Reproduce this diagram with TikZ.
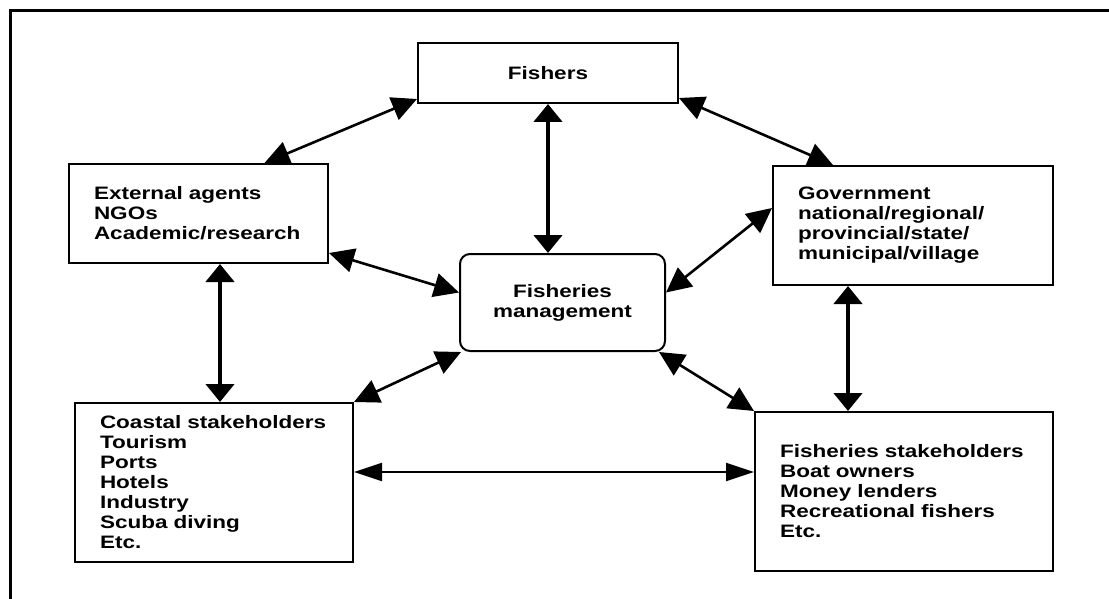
\documentclass[tikz,border=0pt]{standalone}
\usepackage{fontspec}
\setmainfont{Liberation Sans}[FakeStretch=1.25]
\usetikzlibrary{arrows.meta}

\begin{document}
\begin{tikzpicture}[
    x=0.5pt, y=-0.5pt,
    font=\fontsize{9}{10}\selectfont\bfseries,
    box/.style={rectangle, draw=black, line width=1pt, inner sep=0pt, align=left},
    centrebox/.style={box, rounded corners=5pt, align=center},
    diag/.style={line width=1.3pt, {Triangle[length=12.5pt,width=12pt]}-{Triangle[length=12.5pt,width=12pt]}},
    vert/.style={line width=2.2pt, {Triangle[length=9pt,width=14pt]}-{Triangle[length=9pt,width=14pt]}},
    horiz/.style={line width=1pt, {Triangle[length=14pt,width=9pt]}-{Triangle[length=14pt,width=9pt]}}
]
\useasboundingbox (0,0) rectangle (1109,599);
\draw[line width=1.5pt] (10,599) -- (10,11) -- (1109,11);

% Nodes
\node (fishers) [box, align=center, minimum width=130pt, minimum height=30pt] at (548,73) {Fishers};
\node (external) [box, text width=104.5pt, inner xsep=12.5pt, minimum height=49.5pt] at (198.5,213.5)
    {External agents\\NGOs\\Academic/research};
\node (gov) [box, text width=115pt, inner xsep=12.5pt, minimum height=59.5pt] at (913,225.5)
    {Government\\national/regional/\\provincial/state/\\municipal/village};
\node (mgmt) [centrebox, minimum width=102.5pt, minimum height=48.5pt] at (562.5,302.5)
    {Fisheries\\management};
\node (coastal) [box, text width=114pt, inner xsep=12.5pt, minimum height=79.5pt] at (214,482.5)
    {Coastal stakeholders\\Tourism\\Ports\\Hotels\\Industry\\Scuba diving\\Etc.};
\node (fstake) [box, text width=124pt, inner xsep=12.5pt, minimum height=79.5pt] at (904,491.5)
    {Fisheries stakeholders\\Boat owners\\Money lenders\\Recreational fishers\\Etc.};

% Arrows
\draw [diag] ([yshift=2.5pt]fishers.south west) -- ([xshift=33pt]external.north);
\draw [diag] ([yshift=3pt]fishers.south east) -- ([xshift=-40pt]gov.north);
\draw [vert] (fishers.south) -- (fishers.south |- mgmt.north);
\draw [diag] ([yshift=5.5pt]external.south east) -- ([yshift=5pt]mgmt.west);
\draw [diag] ([yshift=5pt]mgmt.east) -- ([yshift=8.75pt]gov.west);
\draw [vert] ([xshift=10.75pt]external.south) -- ([xshift=10.75pt]external.south |- coastal.north);
\draw [vert] ([xshift=-32.5pt]gov.south) -- ([xshift=-32.5pt]gov.south |- fstake.north);
\draw [diag] ([xshift=1pt]mgmt.south west) -- (coastal.north east);
\draw [diag] ([xshift=-3.5pt]mgmt.south east) -- (fstake.north west);
\draw [horiz] ([yshift=5.25pt]coastal.east) -- ([yshift=5.25pt]coastal.east -| fstake.west);

\end{tikzpicture}
\end{document}
